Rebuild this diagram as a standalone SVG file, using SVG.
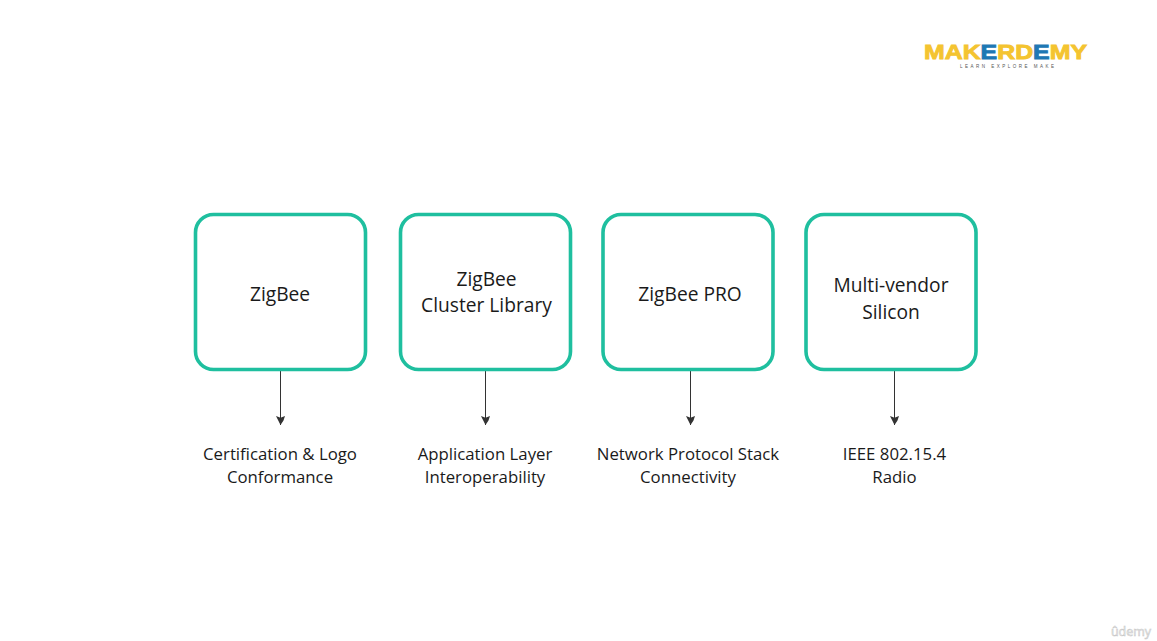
<svg xmlns="http://www.w3.org/2000/svg" width="1157" height="641" viewBox="0 0 1157 641">
<style>
.box{fill:#fff;stroke:#1fbf9f;stroke-width:3.6}
.t{font-family:"Open Sans","Liberation Sans",sans-serif;fill:#1a1a1a;text-anchor:middle}
.a{font-size:19.2px}
.b{font-size:16.8px}
.c{stroke:#333;stroke-width:1;fill:none;marker-end:url(#arrow)}
.y{fill:#f4c430;stroke:#f4c430}
.u{fill:#1f78b4;stroke:#1f78b4}
</style>
<defs>
<marker id="arrow" markerUnits="userSpaceOnUse" markerWidth="10" markerHeight="9" refX="9" refY="4.5" orient="auto">
<path d="M0 0L4.500 1.500L9 4.500L0 9L1.800 4.500Z" fill="#333"/>
</marker>
</defs>
<rect width="1157" height="641" fill="#fff"/>
<g id="connectors">
<path class="c" d="M280.500 369V425"/>
<path class="c" d="M485.500 369V425"/>
<path class="c" d="M690.500 369V425"/>
<path class="c" d="M894.500 369V425"/>
</g>
<g id="node-zigbee"><rect class="box" x="195.500" y="214.500" width="170" height="155" rx="18"/><text class="t a" x="280" y="300.500">ZigBee</text></g>
<g id="node-cluster"><rect class="box" x="400.500" y="214.500" width="170" height="155" rx="18"/><text class="t a" x="486.500" y="285.500">ZigBee</text><text class="t a" x="486.500" y="312">Cluster Library</text></g>
<g id="node-pro"><rect class="box" x="603" y="214.500" width="170" height="155" rx="18"/><text class="t a" x="690" y="301">ZigBee PRO</text></g>
<g id="node-silicon"><rect class="box" x="806" y="214.500" width="170" height="155" rx="18"/><text class="t a" x="891" y="292">Multi-vendor</text><text class="t a" x="891" y="319">Silicon</text></g>
<g id="label-1"><text class="t b" x="280" y="459.500">Certification &amp; Logo</text><text class="t b" x="280" y="482.500">Conformance</text></g>
<g id="label-2"><text class="t b" x="485" y="459.500">Application Layer</text><text class="t b" x="485" y="482.500">Interoperability</text></g>
<g id="label-3"><text class="t b" x="688" y="459.500">Network Protocol Stack</text><text class="t b" x="688" y="482.500">Connectivity</text></g>
<g id="label-4"><text class="t b" x="894.500" y="459.500">IEEE 802.15.4</text><text class="t b" x="894.500" y="482.500">Radio</text></g>
<g id="logo">
<text x="924" y="59" font-family="'Liberation Sans',sans-serif" font-weight="700" font-size="21" stroke-width=".9" class="y" textLength="163" lengthAdjust="spacingAndGlyphs">MAK<tspan class="u">E</tspan>RD<tspan class="u">E</tspan>MY</text>
<text x="960" y="68" font-family="'Liberation Sans',sans-serif" font-size="4.500" fill="#555" textLength="94">LEARN EXPLORE MAKE</text>
</g>
<text x="1131" y="636" text-anchor="middle" font-family="'Open Sans',sans-serif" font-size="12.500" fill="#f2f2f2" stroke="#c4c4c4" stroke-width=".5">ûdemy</text>
</svg>
